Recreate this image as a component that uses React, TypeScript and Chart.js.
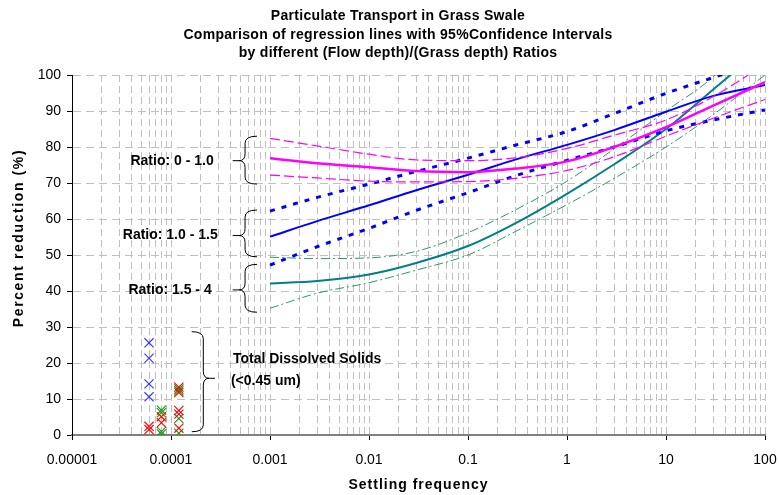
import React, { useEffect, useRef } from "react";
import { Chart, registerables } from "chart.js";

Chart.register(...registerables);

// Settling frequency at which the regression curves are sampled
const SETTLING_FREQ = [0.001, 0.003, 0.01, 0.03, 0.1, 0.3, 1, 3, 10, 30, 100];

// Ratio 0 - 1.0 : fit and 95% confidence band
const RATIO_LOW_FIT = [76.9, 75.5, 74.4, 73.3, 73.0, 74.0, 76.0, 80.0, 85.5, 91.5, 98.0];
const RATIO_LOW_UPPER = [82.4, 80.3, 78.0, 76.4, 76.2, 77.0, 79.6, 83.3, 87.5, 94.0, 103.0];
const RATIO_LOW_LOWER = [72.2, 71.4, 70.5, 70.3, 70.4, 71.3, 73.5, 77.3, 83.0, 88.0, 93.2];

// Ratio 1.0 - 1.5
const RATIO_MID_FIT = [55.1, 59.4, 63.8, 68.0, 72.3, 76.5, 80.6, 84.7, 89.8, 94.2, 97.2];
const RATIO_MID_UPPER = [62.2, 66.0, 69.7, 73.2, 76.9, 80.5, 84.3, 89.3, 94.9, 99.3, 104.0];
const RATIO_MID_LOWER = [47.2, 52.3, 57.4, 62.4, 67.3, 72.0, 76.3, 80.0, 84.5, 87.5, 90.3];

// Ratio 1.5 - 4
const RATIO_HIGH_FIT = [42.1, 42.8, 44.6, 47.8, 52.5, 58.8, 67.0, 75.2, 85.0, 96.0, 108.0];
const RATIO_HIGH_UPPER = [49.4, 49.0, 49.2, 51.0, 56.2, 62.5, 70.5, 79.5, 90.0, 99.5, 115.0];
const RATIO_HIGH_LOWER = [35.2, 39.4, 42.3, 45.8, 50.0, 56.5, 64.0, 71.3, 80.0, 89.0, 100.0];

// Total dissolved solids (<0.45 um) observations
const TDS_BLUE_X = [0.00006, 0.00006, 0.00006, 0.00006];
const TDS_BLUE_Y = [25.6, 21.3, 14.2, 10.6];
const TDS_RED_X = [0.00006, 0.00006, 0.00008, 0.00008, 0.00012, 0.00012, 0.00012, 0.00012, 0.00012];
const TDS_RED_Y = [2.4, 1.5, 5.1, 3.4, 13.3, 11.8, 6.8, 5.8, 1.9];
const TDS_GREEN_X = [0.00008, 0.00008, 0.00008, 0.00008, 0.00012, 0.00012, 0.00012, 0.00012];
const TDS_GREEN_Y = [6.9, 6.2, 1.0, 0.3, 12.8, 12.3, 4.6, 0.5];

// Axis ticks
const X_DECADES = [0.00001, 0.0001, 0.001, 0.01, 0.1, 1, 10, 100];
const X_TICK_LABELS = ["0.00001", "0.0001", "0.001", "0.01", "0.1", "1", "10", "100"];
const Y_MIN = 0;
const Y_MAX = 100;
const Y_STEP = 10;

const TITLE_LINES = [
  "Particulate Transport in Grass Swale",
  "Comparison of regression lines with 95%Confidence Intervals",
  "by different (Flow depth)/(Grass depth) Ratios",
];

const FONT = '"Liberation Sans", Arial, sans-serif';

const MAGENTA = "#ff00ff";
const BLUE = "#0000ff";
const TEAL = "#008080";
const SEA = "#2e9a64";

const toPoints = (ys: number[]) => SETTLING_FREQ.map((x, i) => ({ x, y: ys[i] }));
const toScatter = (xs: number[], ys: number[]) => xs.map((x, i) => ({ x, y: ys[i] }));

const decadeIndex = (v: number) =>
  X_DECADES.findIndex((d) => Math.abs(Math.log10(v) - Math.log10(d)) < 1e-6);

function lineSet(label: string, ys: number[], color: string, width: number, dash: number[]) {
  return {
    type: "line" as const,
    label,
    data: toPoints(ys),
    borderColor: color,
    backgroundColor: color,
    borderWidth: width,
    borderDash: dash,
    pointRadius: 0,
    fill: false,
    cubicInterpolationMode: "monotone" as const,
  };
}

function scatterSet(label: string, xs: number[], ys: number[], color: string) {
  return {
    type: "scatter" as const,
    label,
    data: toScatter(xs, ys),
    borderColor: color,
    backgroundColor: color,
    pointStyle: "crossRot" as const,
    pointRadius: 6.5,
    borderWidth: 1.1,
    showLine: false,
  };
}

// Curly brace drawn from its two ends through the body to the tip
function brace(ctx: CanvasRenderingContext2D, xEnd: number, xBody: number, xTip: number,
  yTop: number, yTip: number, yBot: number) {
  const r = 7;
  const s = Math.sign(xEnd - xBody);
  ctx.beginPath();
  ctx.moveTo(xEnd, yTop);
  ctx.quadraticCurveTo(xBody, yTop, xBody, yTop + r);
  ctx.lineTo(xBody, yTip - r);
  ctx.quadraticCurveTo(xBody, yTip, xBody - s * 6, yTip);
  ctx.lineTo(xTip, yTip);
  ctx.moveTo(xBody - s * 6, yTip);
  ctx.quadraticCurveTo(xBody, yTip, xBody, yTip + r);
  ctx.lineTo(xBody, yBot - r);
  ctx.quadraticCurveTo(xBody, yBot, xEnd, yBot);
  ctx.stroke();
}

const annotations = {
  id: "swaleAnnotations",
  afterDraw(chart: any) {
    const ctx: CanvasRenderingContext2D = chart.ctx;
    const xs = chart.scales.x;
    const ys = chart.scales.y;
    const area = chart.chartArea;
    ctx.save();
    ctx.fillStyle = "#000";
    ctx.textBaseline = "middle";

    // title
    ctx.font = `bold 14px ${FONT}`;
    (ctx as any).letterSpacing = "0.3px";
    ctx.textAlign = "center";
    const titleY = [16, 35, 53];
    TITLE_LINES.forEach((t, i) => ctx.fillText(t, 398, titleY[i]));

    // axis titles
    ctx.font = `bold 14px ${FONT}`;
    (ctx as any).letterSpacing = "1px";
    ctx.fillText("Settling frequency", (area.left + area.right) / 2, 485);
    ctx.save();
    ctx.translate(19, 238);
    ctx.rotate(-Math.PI / 2);
    (ctx as any).letterSpacing = "1.6px";
    ctx.fillText("Percent reduction (%)", 0, 0);
    ctx.restore();
    (ctx as any).letterSpacing = "0px";

    // ratio group labels with braces
    ctx.font = `bold 14px ${FONT}`;
    ctx.textAlign = "right";
    ctx.strokeStyle = "#000";
    ctx.lineWidth = 1;
    const groups = [
      { text: "Ratio: 0 - 1.0", top: 83.0, tip: 76.2, bot: 69.7, gap: 19 },
      { text: "Ratio: 1.0 - 1.5", top: 62.5, tip: 55.4, bot: 49.5, gap: 15 },
      { text: "Ratio: 1.5 - 4", top: 47.4, tip: 40.3, bot: 34.1, gap: 21 },
    ];
    const gxTip = xs.getPixelForValue(0.00042);
    const gxBody = xs.getPixelForValue(0.00056);
    const gxEnd = xs.getPixelForValue(0.00074);
    groups.forEach((g) => {
      const yTip = ys.getPixelForValue(g.tip);
      ctx.fillText(g.text, gxTip - g.gap, yTip);
      brace(ctx, gxEnd, gxBody, gxTip, ys.getPixelForValue(g.top), yTip, ys.getPixelForValue(g.bot));
    });

    // dissolved solids brace and label
    const txEnd = xs.getPixelForValue(0.000162);
    const txBody = xs.getPixelForValue(0.000212);
    const txTip = xs.getPixelForValue(0.000278);
    const tyTip = ys.getPixelForValue(15.75);
    brace(ctx, txEnd, txBody, txTip, ys.getPixelForValue(28.7), tyTip, ys.getPixelForValue(0.9));
    ctx.textAlign = "left";
    ctx.fillText("Total Dissolved Solids", txTip + 18, tyTip - 19);
    ctx.fillText("(<0.45 um)", txTip + 16, tyTip + 3);
    ctx.restore();
  },
};

export default function App() {
  const canvasRef = useRef<HTMLCanvasElement | null>(null);

  useEffect(() => {
    if (!canvasRef.current) return;
    const chart = new Chart(canvasRef.current, {
      type: "line",
      data: {
        datasets: [
          lineSet("Ratio 0-1.0 fit", RATIO_LOW_FIT, MAGENTA, 2.5, []),
          lineSet("Ratio 0-1.0 upper", RATIO_LOW_UPPER, MAGENTA, 1.2, [10, 4]),
          lineSet("Ratio 0-1.0 lower", RATIO_LOW_LOWER, MAGENTA, 1.2, [10, 4]),
          lineSet("Ratio 1.0-1.5 fit", RATIO_MID_FIT, BLUE, 2, []),
          lineSet("Ratio 1.0-1.5 upper", RATIO_MID_UPPER, BLUE, 3, [5, 7]),
          lineSet("Ratio 1.0-1.5 lower", RATIO_MID_LOWER, BLUE, 3, [5, 7]),
          lineSet("Ratio 1.5-4 fit", RATIO_HIGH_FIT, TEAL, 2, []),
          lineSet("Ratio 1.5-4 upper", RATIO_HIGH_UPPER, SEA, 1, [9, 3, 2, 3]),
          lineSet("Ratio 1.5-4 lower", RATIO_HIGH_LOWER, SEA, 1, [9, 3, 2, 3]),
          scatterSet("TDS blue", TDS_BLUE_X, TDS_BLUE_Y, "#3333ff"),
          scatterSet("TDS red", TDS_RED_X, TDS_RED_Y, "#ff0000"),
          scatterSet("TDS green", TDS_GREEN_X, TDS_GREEN_Y, "#119911"),
        ] as any,
      },
      options: {
        animation: false,
        responsive: false,
        events: [],
        layout: { padding: { top: 75, right: 14, bottom: 0, left: 0 } },
        plugins: {
          legend: { display: false },
          title: { display: false },
          tooltip: { enabled: false },
        },
        scales: {
          x: {
            type: "logarithmic",
            min: X_DECADES[0],
            max: X_DECADES[X_DECADES.length - 1],
            afterBuildTicks: (scale: any) => {
              const ticks: { value: number }[] = [];
              for (let d = 0; d < X_DECADES.length - 1; d++) {
                for (let m = 1; m <= 9; m++) {
                  ticks.push({ value: +(X_DECADES[d] * m).toPrecision(6) });
                }
              }
              ticks.push({ value: X_DECADES[X_DECADES.length - 1] });
              scale.ticks = ticks;
            },
            afterFit: (scale: any) => {
              scale.height = 60;
              scale.paddingLeft = 0;
              scale.paddingRight = 0;
            },
            ticks: {
              autoSkip: false,
              maxRotation: 0,
              padding: 12,
              color: "#000",
              font: { family: FONT, size: 14 },
              callback: (v: any) => {
                const i = decadeIndex(Number(v));
                return i >= 0 ? X_TICK_LABELS[i] : "";
              },
            },
            grid: {
              color: "#c0c0c0",
              lineWidth: 1,
              tickLength: 5,
              tickColor: (c: any) =>
                c.tick && decadeIndex(c.tick.value) >= 0 ? "#000" : "rgba(0,0,0,0)",
            },
            border: { display: true, color: "#808080", width: 2, dash: [7, 4] },
          },
          y: {
            type: "linear",
            min: Y_MIN,
            max: Y_MAX,
            afterFit: (scale: any) => {
              scale.width = 72;
              scale.paddingTop = 0;
              scale.paddingBottom = 0;
            },
            ticks: {
              stepSize: Y_STEP,
              padding: 6,
              color: "#000",
              font: { family: FONT, size: 14 },
            },
            grid: {
              color: "#c0c0c0",
              lineWidth: 1,
              tickLength: 5,
              tickColor: "#000",
            },
            border: { display: true, color: "#000", width: 1, dash: [8, 5] },
          },
        },
      },
      plugins: [annotations],
    });
    return () => chart.destroy();
  }, []);

  return (
    <div style={{ position: "absolute", left: 0, top: 0, width: 779, height: 495, background: "#fff" }}>
      <canvas ref={canvasRef} width={779} height={495} />
    </div>
  );
}
